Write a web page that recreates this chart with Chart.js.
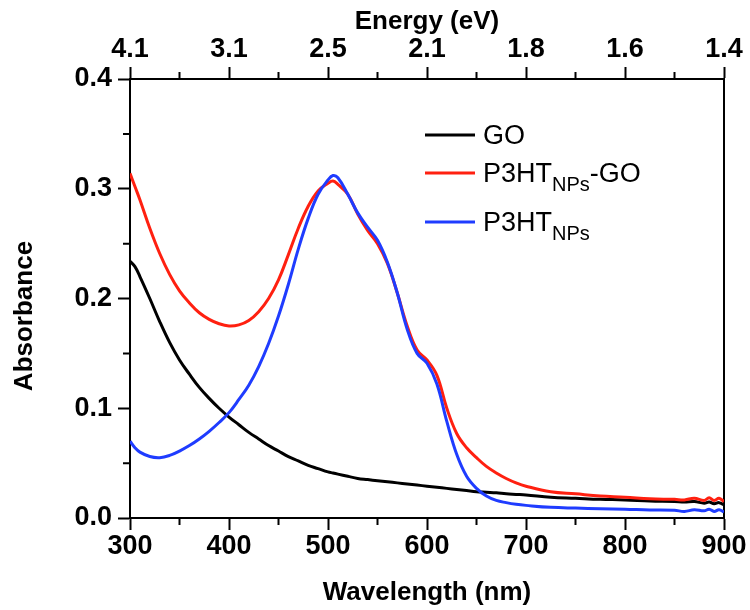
<!DOCTYPE html>
<html>
<head>
<meta charset="utf-8">
<title>UV-Vis absorbance</title>
<script src="https://cdn.jsdelivr.net/npm/chart.js@4.4.1/dist/chart.umd.min.js"></script>
<style>
  html, body { margin: 0; padding: 0; background: #fff; }
  #wrap { width: 750px; height: 610px; }
</style>
</head>
<body>
<div id="wrap"><canvas id="chart" width="750" height="610"></canvas></div>
<script>
// Wavelength grid (nm)
const wavelength = [300, 305, 310, 320, 330, 340, 350, 360, 370, 380, 390, 400, 410, 420, 430, 440, 450, 460, 470, 480, 490, 500, 505, 510, 520, 530, 540, 550, 560, 570, 580, 590, 600, 610, 620, 630, 640, 650, 660, 670, 680, 690, 700, 725, 750, 775, 800, 825, 850, 860, 870, 880, 885, 890, 895, 900];

// Absorbance of each sample on the grid above
const goAbs = [0.234, 0.229, 0.220, 0.200, 0.179, 0.160, 0.144, 0.131, 0.119, 0.109, 0.100, 0.092, 0.085, 0.078, 0.072, 0.066, 0.061, 0.056, 0.052, 0.048, 0.045, 0.042, 0.041, 0.040, 0.038, 0.036, 0.035, 0.034, 0.033, 0.032, 0.031, 0.030, 0.029, 0.028, 0.027, 0.026, 0.025, 0.024, 0.0235, 0.023, 0.022, 0.0215, 0.021, 0.019, 0.018, 0.017, 0.0165, 0.0155, 0.015, 0.0145, 0.015, 0.0135, 0.0145, 0.013, 0.014, 0.012];
const hybridAbs = [0.314, 0.302, 0.290, 0.264, 0.241, 0.222, 0.207, 0.196, 0.187, 0.181, 0.177, 0.175, 0.176, 0.180, 0.188, 0.200, 0.217, 0.240, 0.264, 0.284, 0.298, 0.305, 0.307, 0.304, 0.295, 0.277, 0.262, 0.250, 0.232, 0.205, 0.175, 0.153, 0.144, 0.130, 0.100, 0.077, 0.064, 0.055, 0.047, 0.041, 0.036, 0.032, 0.029, 0.024, 0.022, 0.020, 0.019, 0.0175, 0.017, 0.0165, 0.018, 0.016, 0.0185, 0.016, 0.018, 0.015];
const npsAbs = [0.070, 0.064, 0.060, 0.056, 0.055, 0.057, 0.061, 0.066, 0.072, 0.079, 0.087, 0.096, 0.108, 0.121, 0.138, 0.159, 0.184, 0.213, 0.245, 0.273, 0.295, 0.308, 0.312, 0.310, 0.295, 0.278, 0.265, 0.253, 0.233, 0.205, 0.172, 0.150, 0.141, 0.122, 0.088, 0.058, 0.038, 0.027, 0.020, 0.016, 0.014, 0.0125, 0.0115, 0.0097, 0.009, 0.0085, 0.008, 0.0073, 0.007, 0.006, 0.0075, 0.0065, 0.008, 0.006, 0.0075, 0.0055];

// Axis ticks
const wavelengthTicks = [300, 400, 500, 600, 700, 800, 900];
const energyTickLabels = ['4.1', '3.1', '2.5', '2.1', '1.8', '1.6', '1.4'];
const absorbanceTicks = [0.0, 0.1, 0.2, 0.3, 0.4];

const FONT = '"Liberation Sans", Arial, Helvetica, sans-serif';
const RED = '#ff2010';
const BLUE = '#1f3cff';

const toPoints = (ys) => wavelength.map((w, i) => ({ x: w, y: ys[i] }));

const tickFont = { family: FONT, size: 27, weight: 'bold', lineHeight: 1 };
const titleFont = { family: FONT, size: 26, weight: 'bold', lineHeight: 1 };

const axisGrid = {
  drawOnChartArea: false,
  drawTicks: true,
  tickLength: 12,
  tickWidth: 2,
  tickColor: '#000'
};
const axisBorder = { color: '#000', width: 2 };

// Short minor ticks halfway between the labelled ones
const minorTicks = {
  id: 'minorTicks',
  afterDraw(chart) {
    const { ctx, scales } = chart;
    const area = chart.chartArea;
    ctx.save();
    ctx.strokeStyle = '#000';
    ctx.lineWidth = 2;
    ctx.beginPath();
    for (let i = 0; i < wavelengthTicks.length - 1; i++) {
      const mid = (wavelengthTicks[i] + wavelengthTicks[i + 1]) / 2;
      const px = scales.x.getPixelForValue(mid);
      ctx.moveTo(px, area.bottom);
      ctx.lineTo(px, area.bottom + 7);
      ctx.moveTo(px, area.top);
      ctx.lineTo(px, area.top - 7);
    }
    for (let i = 0; i < absorbanceTicks.length - 1; i++) {
      const mid = (absorbanceTicks[i] + absorbanceTicks[i + 1]) / 2;
      const py = scales.y.getPixelForValue(mid);
      ctx.moveTo(area.left, py);
      ctx.lineTo(area.left - 7, py);
    }
    ctx.stroke();
    ctx.restore();
  }
};

// Vertical axis caption, set a little below the middle of the axis
const yCaption = {
  id: 'yCaption',
  afterDraw(chart) {
    const { ctx } = chart;
    ctx.save();
    ctx.translate(25, 316);
    ctx.rotate(-Math.PI / 2);
    ctx.font = 'bold 26px ' + FONT;
    ctx.fillStyle = '#000';
    ctx.textAlign = 'center';
    ctx.textBaseline = 'middle';
    ctx.fillText('Absorbance', 0, 0);
    ctx.restore();
  }
};

// Legend with subscripted sample names
const subLegend = {
  id: 'subLegend',
  afterDraw(chart) {
    const { ctx } = chart;
    const entries = [
      { color: '#000', parts: [['GO', 0]], y: 135 },
      { color: RED, parts: [['P3HT', 0], ['NPs', 1], ['-GO', 0]], y: 173 },
      { color: BLUE, parts: [['P3HT', 0], ['NPs', 1]], y: 222 }
    ];
    const mainSize = 27, subSize = 20;
    ctx.save();
    ctx.fillStyle = '#000';
    ctx.textBaseline = 'alphabetic';
    for (const e of entries) {
      ctx.strokeStyle = e.color;
      ctx.lineWidth = 3;
      ctx.beginPath();
      ctx.moveTo(425, e.y);
      ctx.lineTo(475, e.y);
      ctx.stroke();
      let x = 483;
      const base = e.y + 9;
      for (const [txt, sub] of e.parts) {
        ctx.font = (sub ? subSize : mainSize) + 'px ' + FONT;
        ctx.fillText(txt, x, sub ? base + 9 : base);
        x += ctx.measureText(txt).width;
      }
    }
    ctx.restore();
  }
};

new Chart(document.getElementById('chart'), {
  type: 'line',
  data: {
    datasets: [
      { label: 'GO', data: toPoints(goAbs), borderColor: '#000', order: 2 },
      { label: 'P3HT NPs-GO', data: toPoints(hybridAbs), borderColor: RED, order: 1 },
      { label: 'P3HT NPs', data: toPoints(npsAbs), borderColor: BLUE, order: 0 }
    ]
  },
  options: {
    responsive: false,
    animation: false,
    layout: { padding: 0 },
    elements: {
      point: { radius: 0 },
      line: { borderWidth: 3, tension: 0.4 }
    },
    plugins: {
      legend: { display: false },
      tooltip: { enabled: false }
    },
    scales: {
      x: {
        type: 'linear', position: 'bottom', min: 300, max: 900,
        afterBuildTicks: (s) => { s.ticks = wavelengthTicks.map(v => ({ value: v })); },
        ticks: { font: tickFont, color: '#000', padding: 3, maxRotation: 0, callback: (v) => String(v) },
        grid: axisGrid, border: axisBorder,
        title: { display: true, text: 'Wavelength (nm)', font: titleFont, color: '#000', padding: { top: 0, bottom: 4 } },
        afterFit: (s) => { s.height = 92; }
      },
      xTop: {
        type: 'linear', position: 'top', min: 300, max: 900,
        afterBuildTicks: (s) => { s.ticks = wavelengthTicks.map(v => ({ value: v })); },
        ticks: { font: tickFont, color: '#000', padding: 4, maxRotation: 0,
                 callback: (v) => energyTickLabels[wavelengthTicks.indexOf(v)] },
        grid: axisGrid, border: axisBorder,
        title: { display: true, text: 'Energy (eV)', font: titleFont, color: '#000', padding: { top: 9, bottom: 0 } },
        afterFit: (s) => { s.height = 79; }
      },
      y: {
        type: 'linear', position: 'left', min: 0, max: 0.4,
        afterBuildTicks: (s) => { s.ticks = absorbanceTicks.map(v => ({ value: v })); },
        ticks: { font: tickFont, color: '#000', padding: 6, callback: (v) => v.toFixed(1) },
        grid: axisGrid, border: axisBorder,
        afterFit: (s) => { s.width = 130; }
      },
      yRight: {
        type: 'linear', position: 'right', min: 0, max: 0.4,
        ticks: { display: false },
        grid: { drawOnChartArea: false, drawTicks: false },
        border: axisBorder,
        afterFit: (s) => { s.width = 26; }
      }
    }
  },
  plugins: [minorTicks, yCaption, subLegend]
});
</script>
</body>
</html>
